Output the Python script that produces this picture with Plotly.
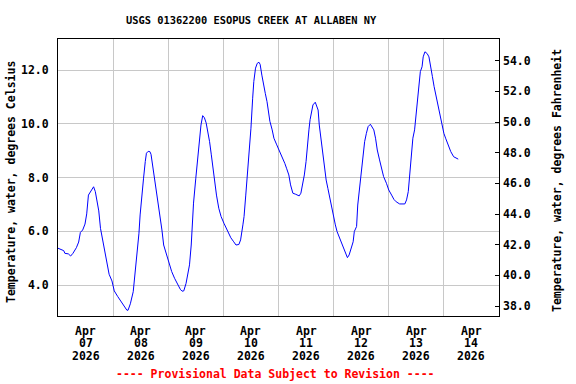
import pandas as pd
import plotly.graph_objects as go

# Hours since 2026-04-07 00:00 and water temperature (deg C)
hours = [0, 2.5, 3, 4.5, 5.5, 6.5, 8, 9, 9.75, 10.75, 11.75, 12.5, 13.25, 14.25, 15, 15.5, 16.25, 17, 17.75, 18.5,
         19.75, 20.5, 21.25, 22.25, 23.5, 24.5, 26, 27.5, 28.75, 30, 30.5, 31.5, 32.75, 33.25, 34, 34.75, 35.25, 35.75,
         36.5, 37.25, 38, 38.5, 39.25, 40, 40.5, 41.5, 42.25, 43.25, 44.25, 45.25, 46, 47, 48.5, 49.5, 50.75, 52,
         53.25, 54, 54.75, 55.75, 56.5, 57.25, 58, 58.5, 59, 60, 60.5, 61, 61.75, 62.25, 63, 63.75, 64.5, 65.25, 66,
         66.75, 67.5, 68.25, 69, 70, 71, 72.25, 73.25, 74.25, 75.25, 76.5, 77.5, 78.75, 79.5, 80.5, 81, 81.75, 82.5,
         83.25, 84, 84.75, 85.25, 86, 86.75, 87.5, 88, 88.75, 89.75, 90.25, 91, 91.75, 92.25, 93.25, 94, 95.25, 96.5,
         97.75, 98.75, 99.5, 100.5, 101.25, 102.25, 103.5, 105, 105.75, 106.5, 107.25, 108, 108.5, 109.25, 109.75,
         110.5, 111, 112, 112.5, 113.25, 113.75, 114.5, 115.25, 116, 116.75, 117.5, 118.25, 119, 119.75, 120.75,
         121.5, 122.75, 123.75, 124.75, 126, 126.75, 127.75, 128.5, 129, 130, 130.5, 131.25, 132, 132.75, 133.5,
         134.25, 135, 136, 136.75, 137.5, 138.25, 139, 140, 140.75, 141.75, 143, 144, 145.25, 146.25, 147.25, 148.75,
         151, 151.75, 152.5, 153, 153.75, 154.5, 155.25, 156, 156.5, 157.25, 157.75, 158.5, 159, 159.75, 160.75,
         161.5, 162.25, 163, 163.75, 164.5, 165, 165.75, 166.5, 167.25, 168, 168.75, 169.5, 170.25, 171, 172.25,
         173.75, 174.25]
temp_c = [5.37, 5.28, 5.18, 5.16, 5.08, 5.18, 5.39, 5.60, 5.96, 6.05, 6.27, 6.65, 7.35, 7.48, 7.55, 7.66, 7.48, 7.13,
          6.76, 6.11, 5.49, 5.12, 4.75, 4.40, 4.15, 3.78, 3.57, 3.38, 3.20, 3.06, 3.06, 3.30, 3.75, 4.18, 4.75, 5.25,
          5.93, 6.61, 7.48, 7.98, 8.60, 8.91, 8.98, 8.97, 8.87, 8.29, 7.73, 7.17, 6.61, 6.05, 5.49, 5.18, 4.75, 4.50,
          4.25, 4.03, 3.84, 3.77, 3.78, 4.06, 4.37, 4.75, 5.49, 6.24, 7.05, 7.98, 8.41, 8.98, 9.59, 9.96, 10.31, 10.23,
          10.04, 9.71, 9.34, 8.85, 8.29, 7.85, 7.35, 6.86, 6.55, 6.30, 6.11, 5.89, 5.76, 5.61, 5.49, 5.51, 5.68, 6.24,
          6.55, 7.35, 8.10, 8.98, 9.84, 10.96, 11.58, 12.08, 12.26, 12.30, 12.22, 11.82, 11.45, 11.14, 10.83, 10.46,
          10.10, 9.78, 9.47, 9.22, 8.97, 8.78, 8.53, 8.35, 8.10, 7.73, 7.42, 7.38, 7.32, 7.42, 7.73, 8.10, 8.60, 9.22,
          9.78, 10.16, 10.52, 10.71, 10.81, 10.70, 10.52, 9.96, 9.47, 8.97, 8.35, 7.91, 7.60, 7.29, 6.85, 6.61, 6.24,
          5.99, 5.74, 5.49, 5.30, 5.02, 5.12, 5.37, 5.61, 5.99, 6.18, 6.98, 7.60, 8.22, 8.85, 9.34, 9.65, 9.90, 9.99,
          9.90, 9.78, 9.47, 9.03, 8.66, 8.35, 8.04, 7.79, 7.54, 7.35, 7.19, 7.10, 7.02, 7.02, 7.17, 7.48, 7.98, 8.72,
          9.47, 9.78, 10.40, 11.02, 11.58, 11.95, 12.13, 12.50, 12.69, 12.62, 12.50, 12.20, 11.77, 11.39, 11.08,
          10.83, 10.52, 10.15, 9.96, 9.65, 9.47, 9.28, 9.09, 8.97, 8.78, 8.69, 8.69]

day_labels = ["07", "08", "09", "10", "11", "12", "13", "14"]
month_label = "Apr"
year_label = "2026"
left_ticks = [4, 6, 8, 10, 12]
right_ticks = [38, 40, 42, 44, 46, 48, 50, 52, 54]

start = pd.Timestamp("2026-04-07")
times = start + pd.to_timedelta(hours, unit="h")
temp_f = [c * 1.8 + 32 for c in temp_c]

FONT = "DejaVu Sans Mono"
fig = go.Figure()
fig.add_trace(go.Scatter(x=times, y=temp_c, mode="lines", line=dict(color="#0000ff", width=1),
                         showlegend=False, hoverinfo="skip"))
fig.add_trace(go.Scatter(x=times, y=temp_f, mode="lines", line=dict(color="rgba(0,0,0,0)", width=0),
                         yaxis="y2", showlegend=False, hoverinfo="skip"))

grid = "#c8c8c8"
midnights = [start + pd.Timedelta(days=d) for d in range(1, 8)]
fig.update_layout(
    width=576, height=384,
    margin=dict(l=58, r=77, t=39, b=68),
    paper_bgcolor="white", plot_bgcolor="white",
    font=dict(family=FONT, size=11.5, color="black"),
    xaxis=dict(type="date", range=[start, start + pd.Timedelta(days=8)], tickvals=midnights,
               showticklabels=False, ticks="", showgrid=True, gridcolor=grid, gridwidth=1,
               showline=True, linecolor="black", linewidth=1, mirror=True, zeroline=False,
               automargin=False),
    yaxis=dict(range=[2.845, 13.166], tickvals=left_ticks, ticktext=[f"<b>{v:.1f}</b>" for v in left_ticks],
               ticks="", ticklabelstandoff=6, showgrid=True, gridcolor=grid, gridwidth=1,
               showline=True, linecolor="black", linewidth=1, mirror=True, zeroline=False,
               automargin=False),
    yaxis2=dict(range=[37.35, 55.42], overlaying="y", side="right", tickvals=right_ticks,
                ticktext=[f"<b>{v:.1f}</b>" for v in right_ticks],
                ticks="inside", ticklen=4, tickcolor="black", ticklabelstandoff=3,
                showgrid=False, showline=False, zeroline=False, automargin=False),
)

ann = []
ann.append(dict(text="<b>USGS 01362200 ESOPUS CREEK AT ALLABEN NY</b>", xref="paper", yref="paper",
                x=0.439, y=1.0686, xanchor="center", yanchor="middle", showarrow=False,
                font=dict(family=FONT, size=10.4, color="black")))
ann.append(dict(text="<b>Temperature, water, degrees Celsius</b>", xref="paper", yref="paper",
                x=-0.1054, y=0.482, xanchor="center", yanchor="middle", textangle=-90, showarrow=False))
ann.append(dict(text="<b>Temperature, water, degrees Fahrenheit</b>", xref="paper", yref="paper",
                x=1.1315, y=0.491, xanchor="center", yanchor="middle", textangle=-90, showarrow=False))
ann.append(dict(text="<b>---- Provisional Data Subject to Revision ----</b>", xref="paper", yref="paper",
                x=0.4937, y=-0.2105, xanchor="center", yanchor="middle", showarrow=False,
                font=dict(family=FONT, size=11.5, color="red")))
line_y = [-0.0531, -0.0986, -0.1433]
for i, d in enumerate(day_labels):
    xm = start + pd.Timedelta(days=i, hours=12)
    for txt, yy in zip([month_label, d, year_label], line_y):
        ann.append(dict(text=f"<b>{txt}</b>", xref="x", yref="paper", x=xm, y=yy,
                        xanchor="center", yanchor="middle", showarrow=False))
fig.update_layout(annotations=ann)

fig.write_html("out.html", config={"displayModeBar": False},
               post_script="document.body.style.margin='0';document.body.style.padding='0';")
